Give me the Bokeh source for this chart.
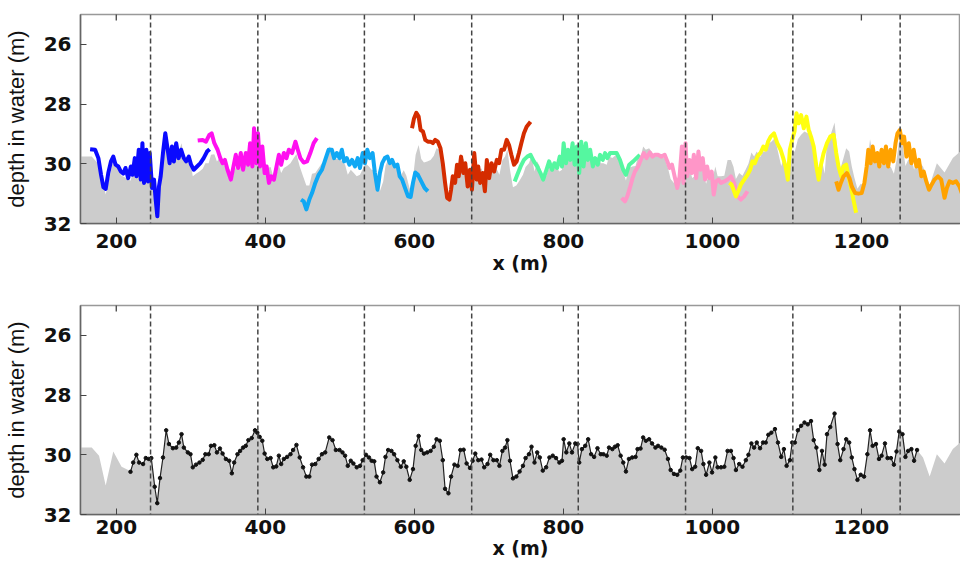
import math
from bokeh.plotting import figure
from bokeh.models import Range1d, FixedTicker, Span
from bokeh.layouts import column
from bokeh.embed import file_html
from bokeh.resources import INLINE

# ---------------- data ----------------
x_ticks = [200, 400, 600, 800, 1000, 1200]
y_ticks = [26, 28, 30, 32]
boundaries = [246, 390, 533, 677, 820, 964, 1108, 1252]
x_min, x_max = 152, 1333
depth_top, depth_bottom = 25, 32

# measured profile (bottom panel, black line with dots)
profile_x = [219.1, 222.7, 227.0, 230.7, 236.0, 239.6, 243.6, 247.0, 251.6, 255.0, 258.7, 262.7, 267.0, 270.7,
             276.0, 280.4, 284.0, 287.6, 290.7, 296.0, 299.6, 302.7, 307.0, 311.6, 316.0, 319.6, 324.0, 327.1,
             331.6, 335.1, 339.1, 342.7, 347.1, 351.6, 355.1, 358.2, 362.7, 366.2, 370.2, 373.8, 377.3, 381.8,
             386.2, 389.3, 392.4, 396.0, 399.1, 402.7, 407.1, 410.7, 414.7, 418.2, 421.3, 424.9, 429.3, 433.8,
             437.3, 441.8, 446.2, 450.7, 455.1, 459.1, 462.7, 467.1, 471.6, 476.0, 480.4, 485.8, 490.2, 494.7,
             499.6, 503.6, 507.1, 510.7, 514.7, 518.2, 522.7, 527.1, 530.7, 535.1, 539.1, 542.7, 546.2, 549.3,
             553.8, 558.2, 561.3, 564.9, 569.3, 572.9, 577.3, 581.8, 585.8, 589.3, 593.8, 598.2, 601.8, 605.8,
             609.3, 612.9, 617.3, 621.8, 626.2, 629.8, 634.2, 638.2, 641.3, 645.8, 649.3, 653.8, 658.2, 661.8,
             666.2, 670.2, 674.7, 678.2, 681.8, 685.8, 690.2, 693.8, 698.2, 701.8, 706.2, 710.7, 714.2, 718.2,
             721.8, 724.9, 728.4, 732.4, 736.9, 741.3, 745.8, 749.3, 753.8, 757.3, 761.3, 764.9, 768.4, 772.4,
             776.9, 781.3, 785.8, 790.2, 794.7, 798.2, 800.4, 804.0, 808.0, 811.6, 816.0, 819.1, 821.3, 824.9,
             829.3, 833.3, 837.3, 841.3, 845.8, 850.2, 853.8, 858.2, 861.3, 865.8, 869.3, 872.9, 876.9, 880.4,
             884.0, 888.0, 892.4, 896.9, 899.6, 903.6, 907.1, 910.7, 915.1, 919.1, 923.6, 927.1, 931.6, 936.0,
             940.4, 944.0, 948.4, 952.9, 956.9, 960.4, 964.9, 969.3, 972.9, 976.9, 980.4, 984.9, 988.0, 991.6,
             996.0, 999.6, 1004.0, 1007.1, 1011.6, 1016.0, 1020.4, 1024.9, 1028.4, 1031.6, 1036.0, 1040.4,
             1044.9, 1048.4, 1052.4, 1056.0, 1059.6, 1064.0, 1068.0, 1071.6, 1075.1, 1079.1, 1084.0, 1088.0,
             1092.4, 1096.0, 1099.6, 1104.0, 1107.1, 1110.7, 1114.7, 1119.1, 1123.6, 1128.0, 1132.4, 1136.0,
             1139.6, 1143.6, 1147.1, 1150.7, 1153.8, 1158.2, 1164.0, 1168.0, 1171.6, 1176.0, 1179.6, 1183.6,
             1187.1, 1190.7, 1194.7, 1199.1, 1203.6, 1208.0, 1211.6, 1215.1, 1219.6, 1223.6, 1227.1, 1231.6,
             1235.1, 1239.6, 1243.6, 1247.1, 1250.7, 1255.1, 1259.1, 1262.7, 1267.1, 1270.7, 1274.7]
profile_y = [30.57, 30.26, 30.00, 30.26, 30.31, 30.11, 30.14, 30.11, 31.07, 31.62, 30.78, 30.09, 29.18, 29.64,
             29.78, 29.76, 29.59, 29.31, 29.76, 29.92, 29.98, 30.42, 30.33, 30.26, 30.17, 29.98, 29.98, 29.70,
             29.68, 29.92, 29.79, 29.96, 30.14, 30.20, 30.62, 30.26, 29.98, 29.87, 29.76, 29.70, 29.51, 29.44,
             29.18, 29.26, 29.40, 29.53, 29.96, 30.14, 30.11, 30.42, 30.39, 30.03, 30.31, 30.14, 30.07, 29.98,
             29.84, 29.67, 30.09, 30.42, 30.73, 30.73, 30.33, 30.31, 30.14, 29.98, 29.92, 29.42, 29.51, 29.84,
             29.84, 29.92, 30.03, 30.37, 30.20, 30.29, 30.42, 30.37, 30.18, 30.00, 30.09, 30.20, 30.22, 30.73,
             30.92, 30.59, 30.07, 29.84, 29.87, 29.98, 30.18, 30.40, 30.22, 30.40, 30.84, 30.48, 29.70, 29.37,
             29.84, 29.96, 29.92, 29.87, 29.73, 29.48, 29.53, 30.18, 31.14, 31.29, 30.73, 30.33, 30.37, 29.84,
             29.83, 30.29, 30.44, 30.20, 29.96, 30.18, 30.16, 30.42, 30.31, 30.00, 30.18, 30.18, 30.37, 29.87,
             29.76, 29.51, 30.20, 30.79, 30.73, 30.56, 30.37, 30.11, 29.98, 29.73, 30.26, 29.92, 30.09, 30.53,
             30.42, 30.09, 30.03, 30.11, 30.26, 30.20, 29.48, 29.92, 29.62, 29.92, 29.62, 29.64, 30.26, 29.81,
             29.70, 29.48, 29.98, 30.07, 29.78, 29.98, 29.98, 30.03, 29.76, 29.81, 29.73, 29.68, 30.03, 30.26,
             30.56, 30.14, 30.09, 30.07, 29.81, 29.79, 29.42, 29.53, 29.48, 29.62, 29.76, 29.70, 29.76, 29.83,
             30.14, 30.51, 30.64, 30.67, 30.53, 30.09, 30.09, 30.11, 30.48, 30.40, 29.78, 29.87, 30.31, 30.67,
             30.26, 30.59, 30.09, 30.42, 30.42, 30.40, 29.87, 29.87, 30.11, 30.51, 30.31, 30.40,
             30.18, 30.00, 29.62, 29.76, 29.59, 29.78, 29.59, 29.59, 29.33, 29.26, 29.14, 29.59,
             30.07, 29.81, 30.37, 30.18, 29.59, 29.59, 29.18, 29.03, 28.92, 28.98, 28.87, 29.51,
             29.76, 30.51, 29.87, 30.33, 29.31, 29.07, 28.62, 29.64, 30.18, 29.81, 29.48, 29.59,
             30.09, 30.48, 30.84, 30.67, 30.73, 29.98, 29.18, 29.70, 29.64, 30.14, 30.03, 29.62,
             30.11, 30.11, 30.33, 29.89, 29.22, 29.31, 30.07, 29.87, 29.81, 30.20, 29.84]

# bathymetry outside the measured profile
bathy_left_x = [150.0, 167.1, 176.9, 185.8, 196.0, 207.1, 216.0]
bathy_left_y = [29.76, 29.76, 30.03, 31.03, 29.89, 30.40, 30.51]
bathy_right_x = [1282.7, 1291.6, 1301.3, 1311.6, 1322.7, 1333.8, 1340.0]
bathy_right_y = [30.09, 30.73, 29.98, 30.29, 29.81, 29.56, 29.50]

# coloured survey lines (top panel)
blue_x = [164.9, 171.6, 176.0, 179.6, 182.7, 185.8, 189.3, 192.9, 196.0, 199.1, 202.7, 206.2, 209.3, 212.4,
          216.0, 219.6, 221.8, 224.9, 227.1, 230.2, 232.9, 235.1, 237.3, 240.4, 242.7, 244.9, 248.0, 250.7,
          252.9, 255.1, 257.3, 259.6, 262.7, 265.8, 268.4, 271.6, 274.7, 277.3, 280.4, 283.6, 287.1, 290.7,
          293.8, 297.3, 300.4, 304.0, 308.4, 312.9, 317.3, 321.8, 325.3]
blue_y = [29.51, 29.53, 29.81, 30.37, 30.78, 30.84, 30.31, 29.92, 29.76, 30.03, 30.09, 30.26, 30.33, 30.14,
          30.48, 30.09, 30.37, 29.81, 30.42, 29.53, 30.53, 29.31, 30.64, 29.53, 30.59, 29.64, 30.81, 30.53,
          31.20, 31.76, 30.76, 30.42, 29.64, 28.98, 29.42, 29.98, 29.42, 29.92, 29.31, 29.81, 29.53, 29.81,
          29.92, 29.76, 30.03, 30.20, 30.09, 29.98, 29.81, 29.59, 29.51]
magenta_x = [309.3, 316.0, 320.4, 324.9, 328.0, 331.6, 336.0, 339.6, 342.7, 345.8, 349.3, 353.8, 357.3, 360.4,
             363.6, 367.1, 370.2, 373.8, 376.9, 379.6, 382.7, 384.9, 388.0, 390.2, 392.9, 396.0, 399.1, 401.8,
             404.9, 408.0, 411.6, 415.1, 418.2, 421.3, 424.9, 428.4, 431.6, 436.0, 440.4, 443.6, 447.1, 451.6,
             456.0, 460.4, 464.9, 469.3]
magenta_y = [29.22, 29.20, 29.26, 29.03, 28.98, 29.31, 29.53, 29.81, 29.98, 29.87, 30.20, 30.53, 30.09, 29.70,
             30.14, 29.64, 30.20, 29.64, 30.03, 29.31, 30.09, 28.81, 29.98, 28.98, 30.09, 29.42, 30.31, 30.09,
             30.64, 30.42, 30.53, 30.09, 29.70, 30.03, 29.64, 29.81, 29.53, 29.64, 29.26, 29.53, 29.81, 29.96,
             29.92, 29.64, 29.31, 29.14]
lightblue_x = [448.0, 451.6, 455.1, 459.1, 462.7, 467.1, 471.6, 476.0, 480.4, 484.9, 489.3, 492.4, 496.0, 499.6,
               502.7, 505.8, 509.3, 512.9, 516.4, 520.4, 524.0, 527.1, 530.7, 533.8, 536.9, 540.4, 544.0, 547.1,
               550.7, 553.8, 556.9, 560.4, 564.0, 567.1, 570.2, 573.8, 577.3, 580.4, 583.6, 587.1, 591.6, 595.1,
               598.2, 601.3, 604.9, 609.3, 613.8, 618.2]
lightblue_y = [31.20, 31.26, 31.53, 31.20, 30.98, 30.64, 30.37, 30.20, 29.87, 29.53, 29.53, 29.81, 29.64, 29.81,
               29.53, 29.92, 29.81, 30.03, 29.87, 30.09, 29.81, 30.14, 29.64, 29.98, 29.53, 29.81, 29.64, 30.31,
               30.87, 30.31, 29.98, 29.81, 29.76, 29.98, 29.87, 30.09, 30.03, 30.42, 30.53, 30.78, 31.09, 31.11,
               30.64, 30.29, 30.37, 30.59, 30.81, 30.92]
red_x = [596.9, 599.6, 602.7, 605.8, 608.4, 611.6, 614.7, 618.2, 621.8, 624.9, 628.0, 631.6, 635.1, 638.2,
         641.3, 644.0, 647.1, 649.3, 651.6, 654.7, 657.3, 659.6, 662.7, 665.8, 668.4, 671.6, 674.7, 677.3,
         680.4, 683.6, 685.8, 688.4, 691.6, 694.7, 697.3, 700.4, 703.6, 707.1, 710.7, 713.8, 716.9, 720.4,
         724.0, 727.1, 730.2, 733.8, 737.3, 740.4, 743.6, 747.1, 750.7, 756.0]
red_y = [28.81, 28.48, 28.29, 28.42, 28.87, 28.92, 29.20, 29.26, 29.26, 29.31, 29.20, 29.26, 29.48, 29.98,
         30.64, 31.14, 31.20, 30.87, 30.42, 30.64, 30.03, 30.42, 29.76, 30.31, 29.98, 30.76, 30.20, 30.87,
         29.64, 30.53, 30.09, 30.64, 30.31, 30.92, 29.87, 30.48, 29.98, 30.26, 29.87, 29.98, 29.53, 29.53,
         29.20, 29.37, 29.70, 30.03, 29.92, 29.64, 29.31, 28.98, 28.76, 28.59]
green_x = [734.7, 738.2, 742.7, 747.1, 751.6, 756.0, 760.4, 764.9, 769.3, 772.9, 777.3, 780.9, 784.9, 788.0,
           791.6, 795.1, 798.2, 800.4, 803.6, 806.2, 809.3, 812.4, 815.1, 818.2, 821.3, 824.0, 827.1, 830.2,
           832.9, 836.0, 839.6, 842.7, 846.2, 849.3, 852.9, 856.0, 859.1, 862.7, 867.1, 871.6, 876.0, 880.4,
           884.0, 888.4, 893.8, 898.2, 902.7]
green_y = [30.59, 30.37, 30.09, 29.87, 29.76, 29.70, 29.92, 30.09, 30.31, 30.53, 30.20, 29.92, 30.20, 29.98,
           30.14, 29.76, 30.09, 29.31, 29.98, 29.53, 29.87, 29.31, 30.03, 29.42, 30.31, 29.26, 30.09, 29.31,
           29.87, 29.53, 30.09, 29.81, 30.03, 29.70, 29.87, 29.64, 29.81, 29.64, 29.64, 29.64, 29.87, 30.20,
           30.37, 30.03, 29.92, 29.81, 29.70]
pink_x = [878.2, 882.7, 885.8, 889.3, 892.9, 896.0, 900.4, 904.9, 908.0, 911.6, 916.0, 919.6, 922.7, 927.1,
          931.6, 936.0, 939.6, 942.7, 945.8, 949.3, 952.9, 956.0, 959.1, 961.3, 964.0, 966.2, 969.3, 972.4,
          975.1, 978.2, 981.3, 984.0, 987.1, 990.2, 992.9, 996.0, 999.1, 1001.8, 1004.9, 1008.0, 1011.6, 1016.0,
          1020.4, 1024.9, 1029.3, 1033.8, 1038.2, 1042.7, 1047.1]
pink_y = [31.14, 31.26, 31.09, 30.81, 30.48, 30.26, 30.09, 29.81, 29.64, 29.81, 29.62, 29.76, 29.70, 29.70,
          29.76, 29.70, 29.92, 30.14, 30.03, 30.42, 30.81, 30.42, 29.42, 30.64, 29.31, 30.42, 29.87, 30.31,
          29.70, 30.48, 29.59, 30.20, 29.81, 30.53, 30.09, 30.48, 30.26, 31.03, 30.59, 30.53, 30.64, 30.59,
          30.53, 30.42, 30.64, 31.09, 31.20, 31.09, 30.92]
yellow_x = [1022.7, 1025.8, 1028.4, 1031.6, 1034.7, 1038.2, 1042.7, 1047.1, 1050.7, 1053.8, 1056.9, 1060.4,
            1064.9, 1068.4, 1071.6, 1074.7, 1078.2, 1082.7, 1087.1, 1091.6, 1095.1, 1098.2, 1101.3, 1104.0,
            1107.1, 1110.2, 1112.9, 1116.0, 1119.1, 1122.7, 1126.2, 1129.3, 1132.4, 1136.0, 1139.6, 1142.7,
            1145.8, 1149.3, 1153.8, 1158.2, 1162.7, 1166.2, 1169.3, 1172.9, 1176.0, 1179.6, 1182.7, 1185.8,
            1189.3, 1192.9]
yellow_y = [30.64, 30.70, 30.87, 31.09, 30.92, 30.70, 30.53, 30.37, 30.20, 29.92, 29.98, 29.76,
            29.62, 29.42, 29.53, 29.26, 29.09, 28.98, 29.31, 29.53, 29.81, 30.09, 30.53, 29.53,
            29.20, 28.92, 28.31, 28.64, 28.37, 28.81, 28.42, 28.87, 29.09, 29.42, 30.09, 30.53,
            30.03, 29.64, 29.31, 29.09, 29.03, 29.64, 30.09, 30.42, 30.09, 30.03, 30.42, 30.76,
            31.20, 31.64]
orange_x = [1166.2, 1169.3, 1172.4, 1176.0, 1180.4, 1184.0, 1187.1, 1191.6, 1196.0, 1200.4, 1204.0, 1207.1,
            1209.3, 1212.4, 1215.1, 1218.2, 1221.3, 1224.0, 1227.1, 1230.2, 1232.9, 1236.0, 1239.1, 1242.7,
            1245.8, 1248.4, 1251.6, 1254.7, 1257.3, 1260.4, 1263.6, 1267.1, 1270.2, 1273.8, 1277.3, 1280.4,
            1283.6, 1287.1, 1290.7, 1294.2, 1298.2, 1302.7, 1307.1, 1311.6, 1314.7, 1318.2, 1322.7, 1327.1,
            1331.6, 1334.7]
orange_y = [30.59, 30.87, 30.64, 30.42, 30.31, 30.48, 30.76, 30.98, 31.00, 30.98, 30.64, 30.09,
            29.53, 29.98, 29.42, 29.92, 29.64, 30.09, 29.53, 29.98, 29.42, 30.09, 29.53, 29.92,
            29.31, 28.98, 28.87, 29.31, 29.09, 29.76, 29.31, 29.98, 29.53, 30.09, 29.87, 30.42,
            30.26, 30.59, 30.87, 30.70, 30.53, 30.42, 30.53, 31.14, 30.81, 30.59, 30.64, 30.59,
            30.76, 30.98]

segments = [
    (blue_x, blue_y, "#0a0aff"),
    (magenta_x, magenta_y, "#ff10f0"),
    (lightblue_x, lightblue_y, "#10a8f4"),
    (red_x, red_y, "#d42c00"),
    (green_x, green_y, "#55f7a0"),
    (pink_x, pink_y, "#ff96c8"),
    (yellow_x, yellow_y, "#ffff10"),
    (orange_x, orange_y, "#ffa200"),
]

bathy_x = bathy_left_x + profile_x + bathy_right_x
bathy_y = bathy_left_y + profile_y + bathy_right_y

TICK_FONT = "DejaVu Sans"


def make_panel(height, border_top, border_bottom, label_standoff, axis_label_standoff):
    p = figure(width=960, height=height, output_backend="svg", toolbar_location=None,
               x_range=Range1d(x_min, x_max), y_range=Range1d(depth_bottom, depth_top),
               min_border_left=74, min_border_right=0,
               min_border_top=border_top, min_border_bottom=border_bottom,
               x_axis_label="x (m)", y_axis_label="depth in water (m)")
    p.grid.visible = False
    p.background_fill_color = "white"
    p.border_fill_color = "white"
    p.outline_line_color = "#999999"
    p.outline_line_width = 1.5

    for ax in (p.xaxis[0], p.yaxis[0]):
        ax.axis_line_color = "#666666"
        ax.axis_line_width = 1.5
        ax.major_tick_in = 6
        ax.major_tick_out = 0
        ax.major_tick_line_color = "#444444"
        ax.minor_tick_line_color = None
        ax.major_label_text_font = TICK_FONT
        ax.major_label_text_font_style = "bold"
        ax.major_label_text_font_size = "20px"
        ax.major_label_text_color = "#111111"

    p.xaxis.ticker = FixedTicker(ticks=x_ticks)
    p.yaxis.ticker = FixedTicker(ticks=y_ticks)
    p.xaxis.major_label_standoff = label_standoff
    p.xaxis.axis_label_standoff = axis_label_standoff
    p.xaxis.axis_label_text_font = TICK_FONT
    p.xaxis.axis_label_text_font_style = "bold"
    p.xaxis.axis_label_text_font_size = "19px"
    p.xaxis.axis_label_text_color = "#111111"

    p.yaxis.major_label_standoff = 9
    p.yaxis.axis_label_standoff = 12
    p.yaxis.axis_label_text_font = "Liberation Sans"
    p.yaxis.axis_label_text_font_style = "normal"
    p.yaxis.axis_label_text_font_size = "22px"
    p.yaxis.axis_label_text_color = "#111111"

    p.varea(x=bathy_x, y1=bathy_y, y2=depth_bottom, fill_color="#cccccc")

    # mirrored inward ticks along the top edge (half of each dash is clipped by the frame)
    p.scatter(x=x_ticks, y=[depth_top] * len(x_ticks), marker="dash", size=12,
              angle=math.pi / 2, line_color="#444444", line_width=1.3)
    return p


top = make_panel(290, 14, 67, 10, 1)
for sx, sy, col in segments:
    top.line(sx, sy, line_color=col, line_width=4, line_join="round")

bottom = make_panel(271, 15, 47, 5, 0)
bottom.line(profile_x, profile_y, line_color="#222222", line_width=1.2)
bottom.scatter(profile_x, profile_y, size=3.5, color="#111111")

for p in (top, bottom):
    for b in boundaries:
        p.add_layout(Span(location=b, dimension="height", line_color="#444444",
                          line_width=1.5, line_dash="5 3"))

layout = column(top, bottom)
open("out.html", "w").write(file_html(layout, INLINE))
